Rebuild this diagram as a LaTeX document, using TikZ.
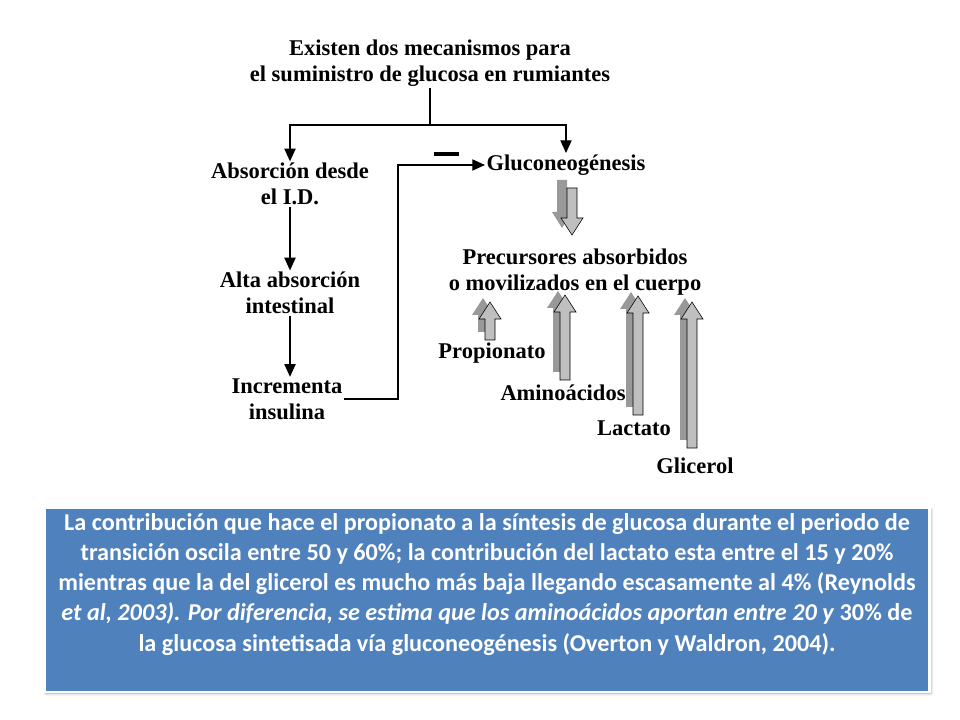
\documentclass[tikz,border=0pt]{standalone}
\usepackage{fontspec}
\setmainfont{Liberation Serif}
\newfontfamily\boxfont{Carlito}
\usepackage{tikz}
\usetikzlibrary{shadows.blur,arrows.meta}

% block arrow: centre x, tip y, tail y (y grows downwards)
\newcommand{\blockup}[4]{%
  \fill[#4] (#1-5,#3) -- (#1-5,#2+17) -- (#1-11,#2+17) -- (#1,#2) --
    (#1+11,#2+17) -- (#1+5,#2+17) -- (#1+5,#3) -- cycle;}

\begin{document}
\begin{tikzpicture}[x=0.025cm,y=-0.025cm,
    lbl/.style={font=\bfseries\fontsize{16}{18.5}\selectfont,align=center,inner sep=1pt},
    link/.style={thick,-{Triangle[length=9pt,width=8pt]}},
    plain/.style={thick}]
    \useasboundingbox (0,0) rectangle (960,720);

    % diagram texts
    \node[lbl] (title) at (430,63) {Existen dos mecanismos para\\el suministro de glucosa en rumiantes};
    \node[lbl] (abs) at (290,184) {Absorción desde\\el I.D.};
    \node[lbl] (alta) at (290,293) {Alta absorción\\intestinal};
    \node[lbl] (inc) at (287,399) {Incrementa\\insulina};
    \node[lbl] (gluco) at (566,165) {Gluconeogénesis};
    \node[lbl] (prec) at (575,272) {Precursores absorbidos\\o movilizados en el cuerpo};
    \node[lbl] (prop) at (492,353) {Propionato};
    \node[lbl] (amino) at (563,393) {Aminoácidos};
    \node[lbl] (lact) at (634,428) {Lactato};
    \node[lbl] (glic) at (695,466) {Glicerol};

    % branching from the title
    \coordinate (split) at (430,125);
    \draw[plain] (title.south) -- (split);
    \draw[link] (split) -| (abs.north);
    \draw[link] (split) -| (gluco.north);
    \draw[link] (abs.south) -- (abs.south |- alta.north);
    \draw[link] (alta.south) -- (alta.south |- inc.north);
    \coordinate (bend) at (398,165);
    \draw[link] (inc.east) -- (bend |- inc.east) -- (bend) -- (gluco.west);
    \draw[line width=2.5pt] (434,154) -- (459,154);% minus sign

    % gray block arrows
    \fill[gray!80] (557,180) -- (567,180) -- (567,212) -- (572,212) -- (562,228) -- (552,212) -- (557,212) -- cycle;
    \draw[fill=gray!50] (567,188) -- (577,188) -- (577,218) -- (583,218) -- (572,235) -- (561,218) -- (567,218) -- cycle;
    \foreach \cx/\tip/\tail in {490/302/340, 565/295/380, 638/296/415, 692/302/448}{
      \blockup{\cx-7}{\tip-4}{\tail-8}{gray!80}
      \blockup{\cx}{\tip}{\tail}{gray!50,draw=black}
    }

    % blue text box
    \node[fill={rgb,255:red,79;green,129;blue,189},draw=white,line width=1.5pt,
      blur shadow={shadow xshift=1pt,shadow yshift=-1pt},
      minimum width=885*0.025cm,minimum height=184*0.025cm,
      align=center,text=white,
      font=\boxfont\bfseries\fontsize{17.2}{21.5}\selectfont] (note) at (487,600)
      {La contribución que hace el propionato a la síntesis de glucosa durante el periodo de\\
       transición oscila entre 50 y 60\%; la contribución del lactato esta entre el 15 y 20\%\\
       mientras que la del glicerol es mucho más baja llegando escasamente al 4\% (Reynolds\\
       \textit{et al, 2003). Por diferencia, se estima que los aminoácidos aportan entre 20 y} 30\% de\\
       la glucosa sintetisada vía gluconeogénesis (Overton y Waldron, 2004).\\[4pt]};
\end{tikzpicture}
\end{document}
